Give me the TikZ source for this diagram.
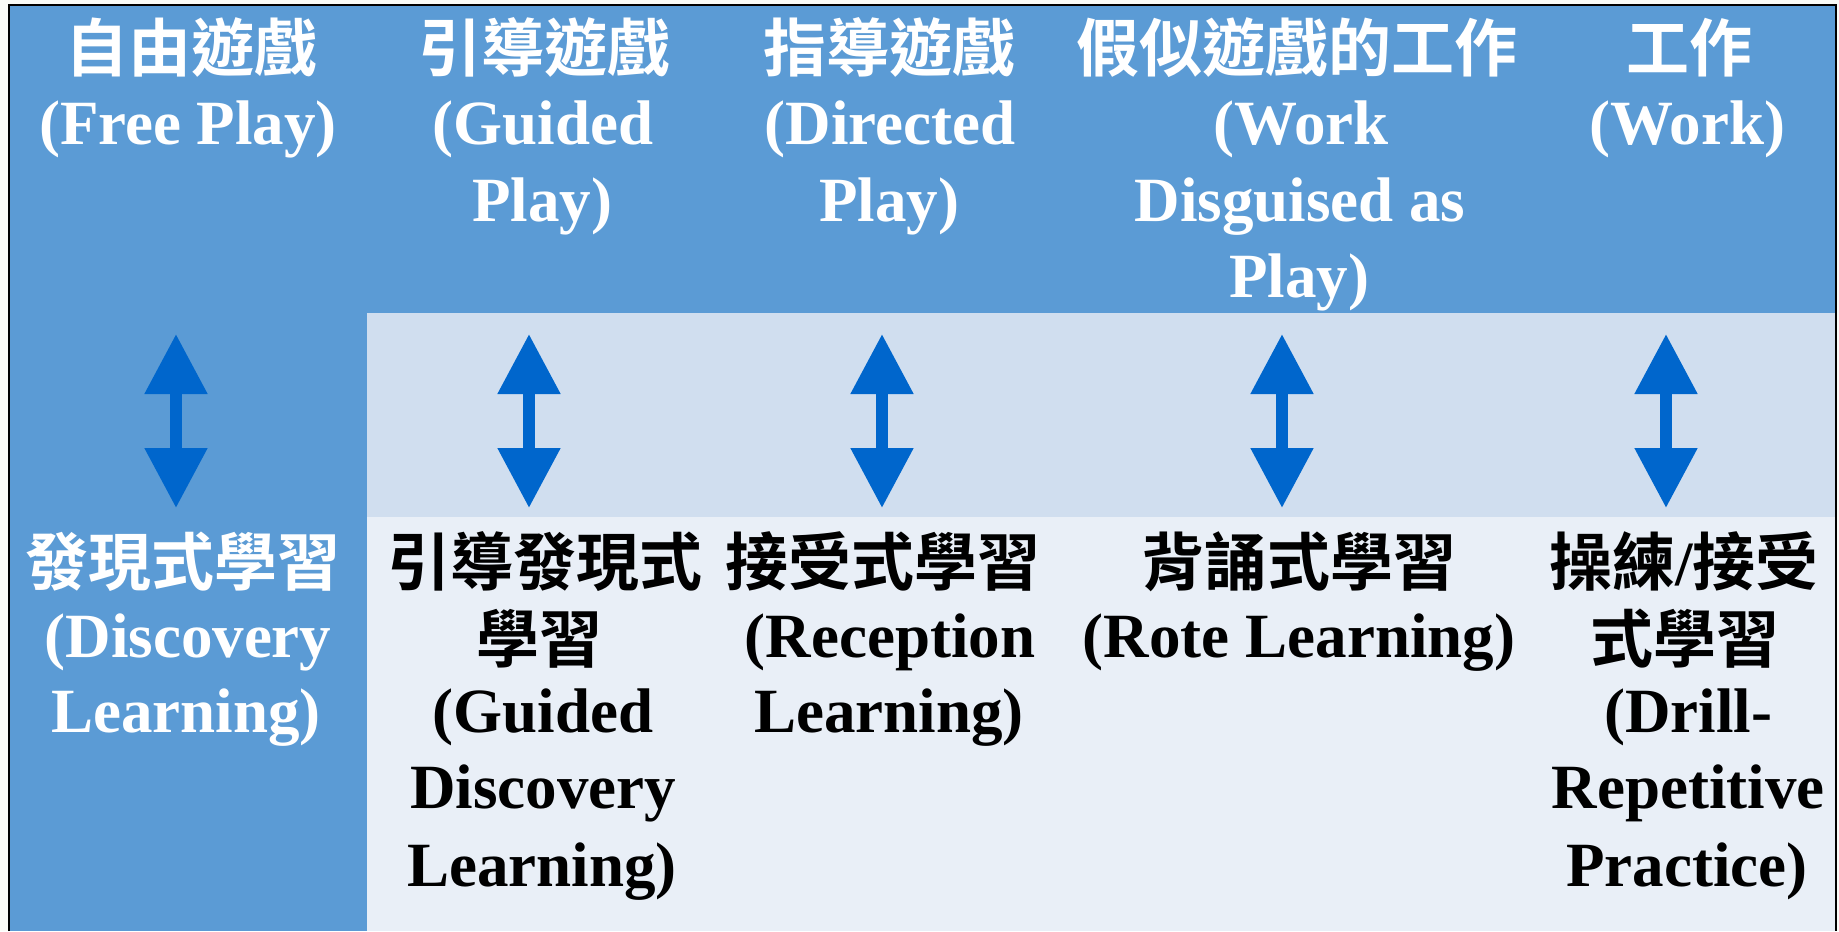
\documentclass[tikz,border=0pt]{standalone}
\usepackage{fontspec}
\setmainfont{Liberation Serif}
\newfontfamily\cjk{Noto Sans CJK TC}[BoldFont={* Bold}]
\usetikzlibrary{arrows.meta}
\definecolor{hdrblue}{HTML}{5B9BD5}
\definecolor{midband}{HTML}{D0DEEF}
\definecolor{lowband}{HTML}{E9EFF7}
\definecolor{arrowblue}{HTML}{0066CC}
\definecolor{paper}{HTML}{FAFBF7}
\begin{document}
\begin{tikzpicture}[x=0.5pt,y=-0.5pt,
  en/.style={anchor=base,inner sep=0pt,font=\fontsize{31.5pt}{38pt}\selectfont\bfseries},
  zh/.style={anchor=base,inner sep=0pt,font=\fontsize{31.5pt}{38pt}\selectfont\cjk\bfseries},
  light/.style={text=white},
  dark/.style={text=black},
  dblarrow/.style={draw=arrowblue,line width=5.85pt,
    {Triangle[width=30pt,length=30pt]}-{Triangle[width=30pt,length=30pt]}}
]
% canvas
\fill[paper] (0,0) rectangle (1839,931);
\useasboundingbox (0,0) rectangle (1839,931);
% bands
\fill[hdrblue] (9,5) rectangle (1835.5,313);
\fill[hdrblue] (9,313) rectangle (367,931);
\fill[midband] (367,313) rectangle (1835.5,517);
\fill[lowband] (367,517) rectangle (1835.5,931);
\draw[black,line width=1pt] (9,931) -- (9,5) -- (1835.5,5) -- (1835.5,931);

% top row
\node[zh,light] (h1z) at (191,72) {自由遊戲};
\node[en,light] (h1e) at (188,144) {(Free Play)};
\node[zh,light] (h2z) at (544,72) {引導遊戲};
\node[en,light] (h2e1) at (543,144) {(Guided};
\node[en,light] (h2e2) at (542,221) {Play)};
\node[zh,light] (h3z) at (889,72) {指導遊戲};
\node[en,light] (h3e1) at (890,144) {(Directed};
\node[en,light] (h3e2) at (889,221) {Play)};
\node[zh,light] (h4z) at (1297,72) {假似遊戲的工作};
\node[en,light] (h4e1) at (1301,144) {(Work};
\node[en,light] (h4e2) at (1300,221) {Disguised as};
\node[en,light] (h4e3) at (1299,297) {Play)};
\node[zh,light] (h5z) at (1689,72) {工作};
\node[en,light] (h5e) at (1687,144) {(Work)};

% bottom row
\node[zh,light] (b1z) at (183,585) {發現式學習};
\node[en,light] (b1e1) at (188,657) {(Discovery};
\node[en,light] (b1e2) at (186,732) {Learning)};
\node[zh,dark] (b2z1) at (545,585) {引導發現式};
\node[zh,dark] (b2z2) at (539,662) {學習};
\node[en,dark] (b2e1) at (543,732) {(Guided};
\node[en,dark] (b2e2) at (543,808) {Discovery};
\node[en,dark] (b2e3) at (542,886) {Learning)};
\node[zh,dark] (b3z) at (883,585) {接受式學習};
\node[en,dark] (b3e1) at (890,657) {(Reception};
\node[en,dark] (b3e2) at (889,732) {Learning)};
\node[zh,dark] (b4z) at (1299,585) {背誦式學習};
\node[en,dark] (b4e) at (1299,657) {(Rote Learning)};
\node[zh,dark] (b5z1) at (1684,585) {操練{\rmfamily/}接受};
\node[zh,dark] (b5z2) at (1685,662) {式學習};
\node[en,dark] (b5e1) at (1688,732) {(Drill-};
\node[en,dark] (b5e2) at (1688,808) {Repetitive};
\node[en,dark] (b5e3) at (1687,886) {Practice)};

% arrows
\foreach \i/\x in {1/176,2/529,3/882,4/1282,5/1666}{
  \coordinate (at\i) at (\x,334);
  \coordinate (ab\i) at (\x,508);
}
\foreach \i in {1,...,5}{
  \draw[dblarrow] (at\i) -- (ab\i);
}
\end{tikzpicture}
\end{document}
